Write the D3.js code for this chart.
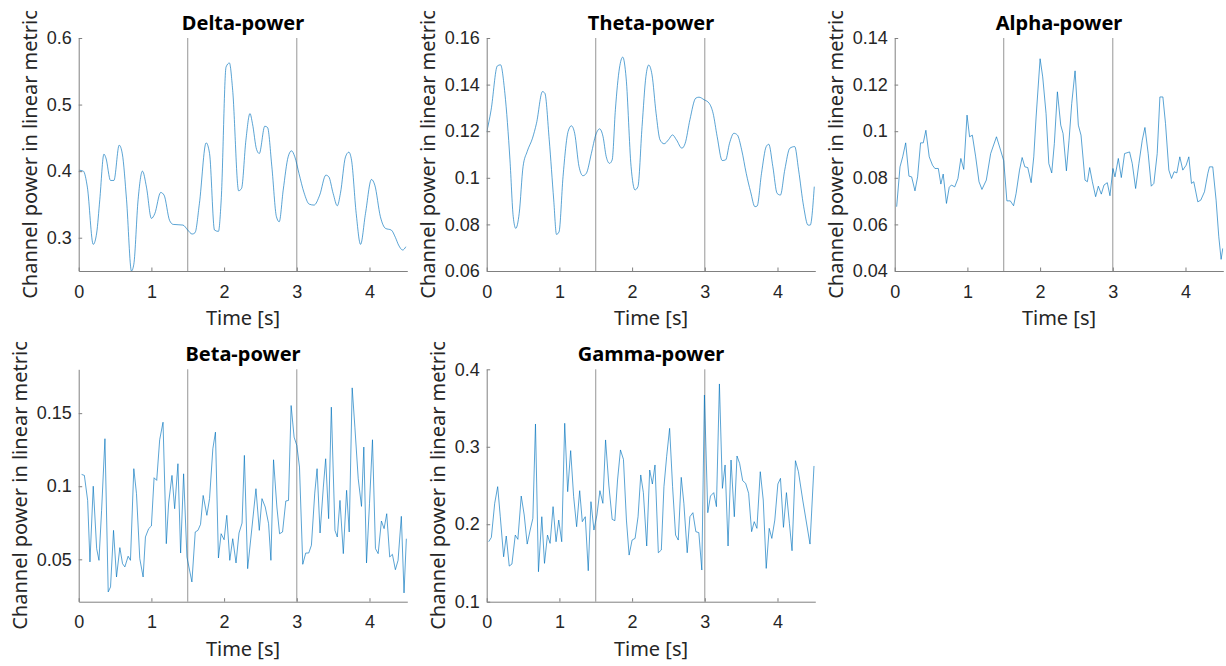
<!DOCTYPE html>
<html>
<head>
<meta charset="utf-8">
<script src="https://cdn.jsdelivr.net/npm/d3@7"></script>
<style>
  body { margin: 0; background: #fff; }
  svg { display: block; font-family: "Noto Sans", "Open Sans", sans-serif; }
</style>
</head>
<body>
<svg width="1226" height="666"></svg>
<script>
// time axis shared by every panel
const xLim = [0, 4.52];
const xTicks = [0, 1, 2, 3, 4];
const eventTimes = [1.5, 3];

// [time s, power]
const deltaPts = [[0,.4015],[.064,.40],[.119,.376],[.2,.29],[.247,.307],[.29,.357],[.347,.4255],[.374,.42],[.438,.386],[.484,.386],[.557,.439],[.6,.426],[.658,.357],[.726,.25],[.758,.26],[.817,.357],[.877,.40],[.932,.376],[1.0,.329],[1.046,.336],[1.128,.368],[1.174,.364],[1.25,.326],[1.3,.32],[1.434,.319],[1.5,.3115],[1.56,.3055],[1.6,.3075],[1.66,.351],[1.753,.4425],[1.8,.4265],[1.868,.3115],[1.922,.3095],[1.96,.3565],[2.027,.5565],[2.073,.5625],[2.118,.5215],[2.2,.3705],[2.24,.374],[2.3,.4465],[2.356,.4865],[2.39,.4715],[2.447,.4325],[2.484,.4265],[2.56,.4675],[2.598,.4655],[2.657,.4065],[2.72,.3315],[2.758,.324],[2.813,.3715],[2.881,.4215],[2.927,.4305],[2.973,.4215],[3.03,.3965],[3.1,.3675],[3.17,.3505],[3.237,.349],[3.315,.364],[3.4,.394],[3.44,.3915],[3.5,.3665],[3.557,.348],[3.6,.3665],[3.67,.4215],[3.716,.4285],[3.753,.4165],[3.817,.3365],[3.877,.29],[3.945,.3365],[4.027,.3875],[4.073,.379],[4.15,.3315],[4.22,.314],[4.3,.3115],[4.356,.3005],[4.4,.289],[4.457,.2815],[4.5,.2865]];

const thetaPts = [[0,.1196],[.06,.129],[.146,.148],[.19,.1485],[.25,.1363],[.32,.1077],[.365,.0833],[.40,.0783],[.447,.0847],[.5,.1048],[.557,.1113],[.63,.117],[.685,.1234],[.767,.137],[.8,.1363],[.86,.1163],[.922,.0905],[.96,.0757],[.995,.0768],[1.05,.1005],[1.12,.1199],[1.165,.1223],[1.21,.1191],[1.27,.1048],[1.324,.1009],[1.37,.1019],[1.44,.1105],[1.5,.1184],[1.553,.121],[1.6,.1177],[1.644,.1091],[1.69,.1062],[1.726,.1077],[1.77,.1292],[1.826,.1471],[1.872,.1518],[1.918,.1428],[1.986,.1048],[2.04,.0948],[2.08,.0962],[2.137,.122],[2.19,.1435],[2.228,.1484],[2.274,.1442],[2.33,.1277],[2.384,.1163],[2.44,.1146],[2.5,.1163],[2.556,.1184],[2.61,.1163],[2.685,.1127],[2.73,.1148],[2.795,.1249],[2.876,.1342],[2.92,.1346],[2.99,.1335],[3.06,.132],[3.114,.1277],[3.17,.1177],[3.24,.1074],[3.287,.1077],[3.34,.1148],[3.4,.1191],[3.447,.1184],[3.507,.112],[3.57,.1019],[3.63,.094],[3.69,.0876],[3.72,.0879],[3.78,.1019],[3.845,.1134],[3.88,.1144],[3.936,.1048],[3.995,.0933],[4.04,.0926],[4.1,.1034],[4.17,.1127],[4.237,.1134],[4.29,.1034],[4.36,.0876],[4.42,.0797],[4.45,.0797],[4.506,.0962]];

const alphaPts = [[.027,.0676],[.073,.0847],[.11,.089],[.151,.095],[.196,.0807],[.233,.0804],[.279,.0744],[.315,.0804],[.356,.095],[.393,.095],[.429,.1004],[.475,.089],[.52,.0854],[.553,.084],[.6,.084],[.635,.0773],[.667,.0816],[.712,.069],[.75,.0759],[.78,.0769],[.826,.0761],[.87,.0797],[.91,.0883],[.95,.0836],[.995,.1069],[1.03,.0976],[1.068,.0983],[1.114,.089],[1.16,.0783],[1.2,.075],[1.26,.079],[1.32,.0904],[1.4,.0976],[1.456,.0919],[1.5,.0873],[1.543,.0701],[1.59,.0701],[1.635,.068],[1.67,.0733],[1.717,.0833],[1.753,.0887],[1.79,.0847],[1.83,.0844],[1.877,.0779],[1.913,.089],[1.945,.1061],[2.0,.1311],[2.036,.1233],[2.082,.1076],[2.12,.0861],[2.16,.0821],[2.196,.0947],[2.238,.1169],[2.284,.1026],[2.316,.099],[2.362,.083],[2.398,.0961],[2.435,.1119],[2.481,.1259],[2.526,.1026],[2.563,.0983],[2.618,.079],[2.65,.0783],[2.682,.0844],[2.719,.0783],[2.764,.0719],[2.801,.0764],[2.842,.073],[2.879,.0769],[2.924,.0779],[2.961,.0723],[3.002,.084],[3.03,.0804],[3.076,.0883],[3.117,.0801],[3.162,.0904],[3.231,.0911],[3.268,.0861],[3.314,.0754],[3.359,.0861],[3.405,.0961],[3.442,.1016],[3.487,.0904],[3.529,.0764],[3.565,.0776],[3.611,.0904],[3.648,.1147],[3.689,.1147],[3.725,.1033],[3.771,.0833],[3.808,.0797],[3.844,.0826],[3.881,.0821],[3.922,.089],[3.963,.0833],[4.009,.0854],[4.046,.089],[4.082,.0776],[4.114,.0783],[4.169,.0697],[4.21,.0704],[4.261,.074],[4.307,.0819],[4.33,.0847],[4.375,.0847],[4.421,.0704],[4.458,.0547],[4.49,.045],[4.513,.0497]];

const betaPts = [[.04,.1081],[.078,.1074],[.123,.0903],[.155,.0482],[.2,.1],[.247,.0573],[.279,.0493],[.315,.0835],[.361,.1325],[.406,.0277],[.438,.0311],[.479,.0698],[.52,.0379],[.566,.058],[.603,.047],[.635,.0448],[.68,.0521],[.712,.0493],[.758,.112],[.795,.0949],[.84,.0505],[.886,.0379],[.918,.0653],[.963,.071],[1.0,.0728],[1.037,.1058],[1.073,.104],[1.114,.1318],[1.16,.1438],[1.205,.0607],[1.237,.0885],[1.283,.1074],[1.32,.0846],[1.365,.1154],[1.402,.0543],[1.443,.1085],[1.489,.0516],[1.557,.0345],[1.603,.0687],[1.64,.0698],[1.676,.0739],[1.712,.0937],[1.763,.0801],[1.8,.0915],[1.845,.1256],[1.881,.137],[1.922,.0509],[1.959,.0675],[2.0,.0634],[2.037,.0801],[2.078,.0493],[2.119,.0641],[2.164,.0475],[2.205,.068],[2.247,.0748],[2.279,.1211],[2.324,.0436],[2.384,.0721],[2.438,.0983],[2.484,.0698],[2.521,.0915],[2.566,.0858],[2.612,.0744],[2.644,.0493],[2.68,.1181],[2.726,.0858],[2.763,.0675],[2.804,.0687],[2.849,.0899],[2.886,.0903],[2.922,.1552],[2.963,.1336],[3.0,.1279],[3.037,.1131],[3.082,.0466],[3.123,.0543],[3.164,.0543],[3.201,.0596],[3.247,.0953],[3.279,.112],[3.32,.068],[3.365,.0994],[3.397,.1188],[3.438,.0778],[3.475,.1541],[3.525,.0698],[3.557,.0653],[3.594,.0903],[3.64,.0539],[3.685,.0972],[3.721,.0687],[3.762,.1673],[3.799,.1404],[3.845,.1051],[3.89,.0862],[3.922,.1268],[3.959,.0475],[4.0,.088],[4.041,.1318],[4.082,.0573],[4.119,.0539],[4.164,.0762],[4.201,.071],[4.237,.0812],[4.278,.0516],[4.315,.0534],[4.356,.0429],[4.393,.0493],[4.438,.0794],[4.475,.027],[4.507,.0641]];

const gammaPts = [[.027,.1774],[.064,.183],[.11,.227],[.151,.2485],[.187,.2097],[.233,.158],[.269,.1848],[.31,.146],[.347,.1486],[.393,.186],[.429,.1805],[.475,.2364],[.516,.2119],[.557,.1744],[.598,.1925],[.635,.2076],[.671,.3294],[.712,.1387],[.758,.2097],[.795,.1495],[.836,.186],[.872,.1753],[.913,.2227],[.954,.1774],[.991,.2054],[1.032,.1774],[1.073,.3303],[1.114,.242],[1.155,.295],[1.196,.2356],[1.237,.1968],[1.279,.2433],[1.315,.2033],[1.356,.2097],[1.397,.14],[1.434,.2291],[1.475,.1925],[1.516,.2119],[1.557,.2433],[1.598,.227],[1.635,.3088],[1.68,.2506],[1.726,.2063],[1.763,.2046],[1.8,.2571],[1.84,.2959],[1.881,.2838],[1.922,.2054],[1.959,.1602],[2.0,.1796],[2.041,.1817],[2.082,.2097],[2.119,.2636],[2.155,.2408],[2.201,.1719],[2.242,.27],[2.279,.2519],[2.315,.2765],[2.361,.1632],[2.402,.1667],[2.438,.2485],[2.475,.2872],[2.516,.3238],[2.557,.2485],[2.598,.186],[2.635,.1796],[2.676,.2605],[2.712,.227],[2.758,.1632],[2.795,.2097],[2.836,.2149],[2.877,.1904],[2.918,.1891],[2.959,.1409],[2.995,.3668],[3.041,.2149],[3.078,.2364],[3.123,.2408],[3.16,.2227],[3.201,.3811],[3.242,.2463],[3.279,.2765],[3.32,.1719],[3.361,.2829],[3.406,.2097],[3.443,.2881],[3.479,.2786],[3.521,.2562],[3.562,.2528],[3.603,.2399],[3.644,.1904],[3.68,.2033],[3.717,.1947],[3.763,.2678],[3.804,.2313],[3.845,.143],[3.886,.1947],[3.922,.1817],[3.963,.2054],[4.005,.2519],[4.041,.2592],[4.082,.196],[4.123,.2408],[4.164,.2011],[4.2,.1658],[4.247,.282],[4.288,.2678],[4.347,.2313],[4.447,.1744],[4.502,.2752]];

// y limits and ticks per band
const deltaLim = [0.25, 0.6], deltaTicks = [0.3, 0.4, 0.5, 0.6];
const thetaLim = [0.06, 0.16], thetaTicks = [0.06, 0.08, 0.1, 0.12, 0.14, 0.16];
const alphaLim = [0.04, 0.14], alphaTicks = [0.04, 0.06, 0.08, 0.1, 0.12, 0.14];
const betaLim = [0.021, 0.18], betaTicks = [0.05, 0.1, 0.15];
const gammaLim = [0.1, 0.4], gammaTicks = [0.1, 0.2, 0.3, 0.4];

const svg = d3.select("svg");
const pw = 328.6, axisCol = "#808080", textCol = "#262626";

const panels = [
    { title: "Delta-power", pts: deltaPts, lim: deltaLim, ticks: deltaTicks, left: 78.7, top: 38, h: 233, smooth: true },
    { title: "Theta-power", pts: thetaPts, lim: thetaLim, ticks: thetaTicks, left: 486.7, top: 38, h: 233, smooth: true },
    { title: "Alpha-power", pts: alphaPts, lim: alphaLim, ticks: alphaTicks, left: 894.7, top: 38, h: 233, smooth: false },
    { title: "Beta-power", pts: betaPts, lim: betaLim, ticks: betaTicks, left: 78.7, top: 369.3, h: 232.4, smooth: false },
    { title: "Gamma-power", pts: gammaPts, lim: gammaLim, ticks: gammaTicks, left: 486.7, top: 369.3, h: 232.4, smooth: false }
];

panels.forEach(function(p, i) {
    const ph = p.h;
    const g = svg.append("g").attr("transform", `translate(${p.left},${p.top})`);

    const x = d3.scaleLinear().domain(xLim).range([0, pw]);
    const y = d3.scaleLinear().domain(p.lim).range([ph, 0]);

    g.append("clipPath").attr("id", "clip" + i)
        .append("rect").attr("width", pw).attr("height", ph);

    // event markers
    g.selectAll("line.ev")
        .data(eventTimes)
        .join("line")
        .attr("class", "ev")
        .attr("x1", d => x(d)).attr("x2", d => x(d))
        .attr("y1", 0).attr("y2", ph)
        .attr("stroke", "#8a8a8a")
        .attr("stroke-width", 0.9);

    const line = d3.line()
        .x(d => x(d[0]))
        .y(d => y(d[1]))
        .curve(p.smooth ? d3.curveMonotoneX : d3.curveLinear);

    g.append("path")
        .datum(p.pts)
        .attr("clip-path", `url(#clip${i})`)
        .attr("fill", "none")
        .attr("stroke", "#0072BD")
        .attr("stroke-width", 0.65)
        .attr("d", line);

    const fmt = d3.format("~g");

    const xa = g.append("g")
        .attr("transform", `translate(0,${ph})`)
        .call(d3.axisBottom(x).tickValues(xTicks).tickSize(-3.5).tickSizeOuter(0).tickPadding(14).tickFormat(fmt));

    const ya = g.append("g")
        .call(d3.axisLeft(y).tickValues(p.ticks).tickSize(-3.5).tickSizeOuter(0).tickPadding(7).tickFormat(fmt));

    [xa, ya].forEach(a => {
        a.select(".domain").attr("stroke", axisCol);
        a.selectAll(".tick line").attr("stroke", axisCol);
        a.selectAll(".tick text").attr("fill", textCol).style("font-size", "18px");
    });

    const maxW = d3.max(ya.selectAll(".tick text").nodes(), n => n.getComputedTextLength());

    g.append("text")
        .attr("transform", `translate(${-7 - maxW - 10},${ph / 2}) rotate(-90)`)
        .attr("text-anchor", "middle")
        .attr("fill", textCol)
        .style("font-size", "20px")
        .text("Channel power in linear metric");

    g.append("text")
        .attr("x", pw / 2).attr("y", ph + 54)
        .attr("text-anchor", "middle")
        .attr("fill", textCol)
        .style("font-size", "20px")
        .text("Time [s]");

    g.append("text")
        .attr("x", pw / 2).attr("y", -8)
        .attr("text-anchor", "middle")
        .attr("fill", "#000")
        .style("font-size", "20px")
        .style("font-weight", "bold")
        .text(p.title);
});
</script>
</body>
</html>
